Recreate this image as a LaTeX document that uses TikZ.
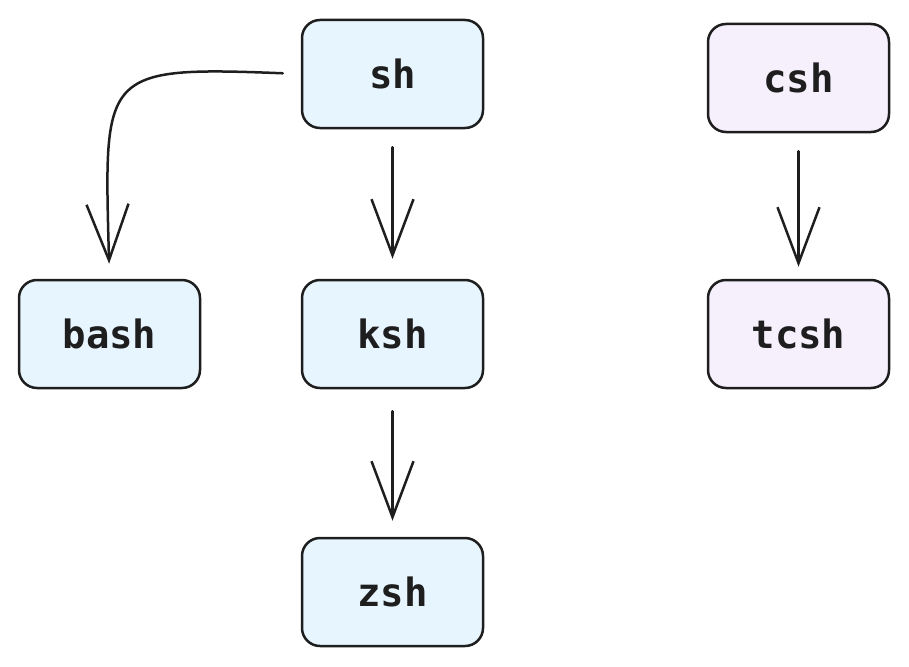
\documentclass[tikz,border=0pt]{standalone}
\usepackage{fontspec}
\setmonofont{DejaVu Sans Mono}
\usetikzlibrary{arrows.meta}
\definecolor{ink}{HTML}{1E1E1E}
\definecolor{bluefill}{HTML}{E7F5FF}
\definecolor{purplefill}{HTML}{F5F0FC}
\tikzset{
  shellbox/.style={draw=ink, line width=2.5pt, rounded corners=18pt, minimum width=181pt, minimum height=108pt, inner sep=0pt, font=\fontsize{39}{43}\selectfont\ttfamily\bfseries, text=ink},
  bluebox/.style={shellbox, fill=bluefill},
  purplebox/.style={shellbox, fill=purplefill},
  arr/.style={draw=ink, line width=2.5pt, line cap=round, -{Straight Barb[length=56pt, width=42pt, line width=2.5pt]}}
}
\begin{document}
\begin{tikzpicture}[x=1pt, y=-1pt]
\useasboundingbox (0,0) rectangle (909,666);
\node[bluebox] (sh) at (392.5,74) {sh};
\node[purplebox] (csh) at (798.5,78) {csh};
\node[bluebox] (bash) at (109.5,334) {bash};
\node[bluebox] (ksh) at (392.5,334) {ksh};
\node[purplebox] (tcsh) at (798.5,334) {tcsh};
\node[bluebox] (zsh) at (392.5,592) {zsh};
\coordinate (b1) at (100,66);
\coordinate (b2) at (104,72);
\draw[arr, shorten <=18pt, shorten >=15pt] (sh.west) .. controls (b1) and (b2) .. (bash.north);
\draw[arr, shorten <=18pt, shorten >=20pt] (sh.south) -- (ksh.north);
\draw[arr, shorten <=22pt, shorten >=16pt] (ksh.south) -- (zsh.north);
\draw[arr, shorten <=18pt, shorten >=12pt] (csh.south) -- (tcsh.north);
\end{tikzpicture}
\end{document}
